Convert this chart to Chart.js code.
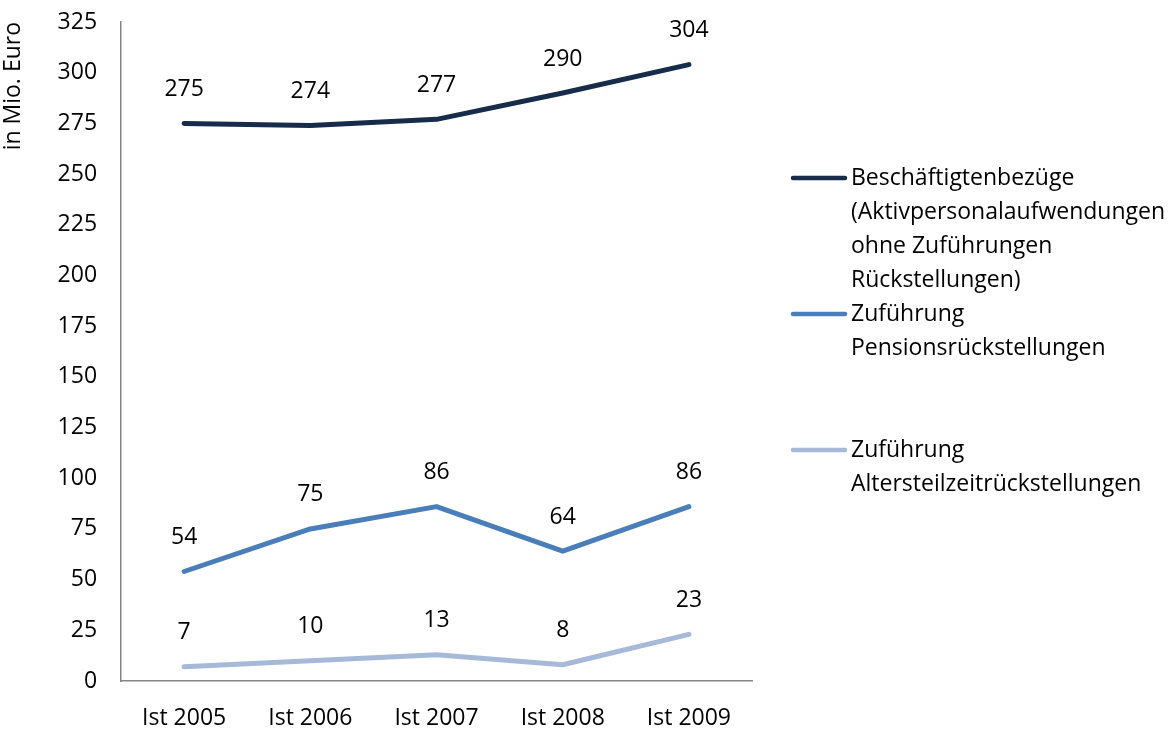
<!DOCTYPE html>
<html>
<head>
<meta charset="utf-8">
<script src="https://cdn.jsdelivr.net/npm/chart.js@4"></script>
<style>
  html, body { margin: 0; padding: 0; background: #fff; }
  canvas { display: block; }
</style>
</head>
<body>
<canvas id="chart" width="1176" height="733"></canvas>
<script>
// ----------- Daten -----------
const categories = ['Ist 2005', 'Ist 2006', 'Ist 2007', 'Ist 2008', 'Ist 2009'];
const bezuege = [275, 274, 277, 290, 304];
const pension = [54, 75, 86, 64, 86];
const altersteilzeit = [7, 10, 13, 8, 23];
const seriesLabels = [
    ['Beschäftigtenbezüge', '(Aktivpersonalaufwendungen', 'ohne Zuführungen', 'Rückstellungen)'],
    ['Zuführung', 'Pensionsrückstellungen'],
    ['Zuführung', 'Altersteilzeitrückstellungen']
];
const yTitle = 'in Mio. Euro';

const FONT = '"Open Sans", Lato, sans-serif';
const FS = 23;
const colors = ['#172b4a', '#4a7ebb', '#a7b9d8'];
const legendY = [178, 314, 450];

// Werte über den Punkten
const valueLabels = {
    id: 'valueLabels',
    afterDatasetsDraw(chart) {
        const ctx = chart.ctx;
        ctx.save();
        ctx.font = FS + 'px ' + FONT;
        ctx.fillStyle = '#000';
        ctx.textAlign = 'center';
        ctx.textBaseline = 'middle';
        chart.data.datasets.forEach((ds, i) => {
            chart.getDatasetMeta(i).data.forEach((pt, j) => {
                ctx.fillText(ds.data[j], pt.x, pt.y - 34);
            });
        });
        ctx.restore();
    }
};

// Legende rechts, mehrzeilig
const sideLegend = {
    id: 'sideLegend',
    afterDraw(chart) {
        const ctx = chart.ctx;
        ctx.save();
        ctx.font = FS + 'px ' + FONT;
        ctx.fillStyle = '#000';
        ctx.textAlign = 'left';
        ctx.textBaseline = 'middle';
        chart.data.datasets.forEach((ds, i) => {
            const y = legendY[i];
            ctx.strokeStyle = ds.borderColor;
            ctx.lineWidth = 4.5;
            ctx.lineCap = 'round';
            ctx.beginPath();
            ctx.moveTo(793, y);
            ctx.lineTo(845, y);
            ctx.stroke();
            seriesLabels[i].forEach((line, k) => {
                ctx.fillText(line, 851, y + k * 34);
            });
        });
        ctx.restore();
    }
};

new Chart(document.getElementById('chart'), {
    type: 'line',
    data: {
        labels: categories,
        datasets: [
            { label: seriesLabels[0].join(' '), data: bezuege, borderColor: colors[0] },
            { label: seriesLabels[1].join(' '), data: pension, borderColor: colors[1] },
            { label: seriesLabels[2].join(' '), data: altersteilzeit, borderColor: colors[2] }
        ].map(d => Object.assign(d, { borderWidth: 5, pointRadius: 0, tension: 0, borderCapStyle: 'round', borderJoinStyle: 'round' }))
    },
    options: {
        responsive: false,
        animation: false,
        layout: { padding: { top: 22, right: 424, bottom: 0, left: 0 } },
        plugins: { legend: { display: false }, tooltip: { enabled: false } },
        scales: {
            x: {
                offset: true,
                grid: { display: false, drawTicks: false },
                border: { color: '#868686', width: 1.5 },
                ticks: { color: '#000', font: { size: FS, family: FONT }, padding: 24, maxRotation: 0, minRotation: 0 },
                afterFit: s => { s.height = 52; }
            },
            y: {
                min: 0, max: 325,
                grid: { display: false, drawTicks: false },
                border: { color: '#868686', width: 1.5 },
                ticks: { stepSize: 25, color: '#000', font: { size: FS, family: FONT }, padding: 24 },
                title: { display: true, text: yTitle, align: 'end', color: '#000', font: { size: FS, family: FONT }, padding: { top: 0, bottom: 6 } },
                afterFit: s => { s.paddingTop = 0; s.paddingBottom = 0; }
            }
        }
    },
    plugins: [valueLabels, sideLegend]
});
</script>
</body>
</html>
